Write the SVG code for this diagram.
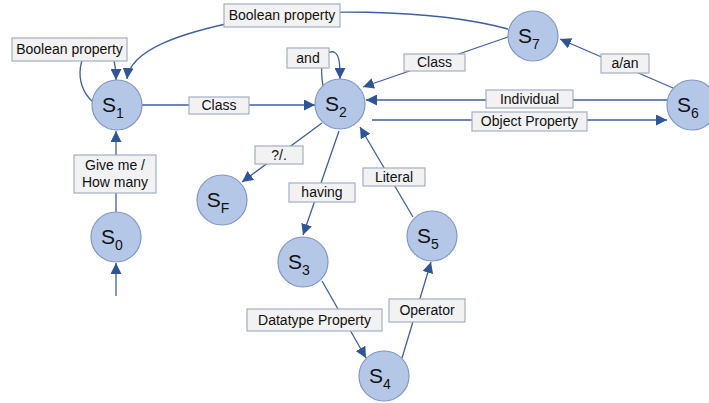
<svg xmlns="http://www.w3.org/2000/svg" width="709" height="403" viewBox="0 0 709 403">
<style>
.node circle{fill:#b4c7e7;stroke:#8197c4;stroke-width:1.2}
.node text{font-family:"Liberation Sans",Arial,sans-serif;font-size:21px;fill:#111;text-anchor:middle}
.node tspan{font-size:14px}
.edge{fill:none;stroke:#3f5f9e;stroke-width:1.3}
.arr{marker-end:url(#ah)}
.lbl rect{fill:#f2f2f2;stroke:#a3afc4;stroke-width:1.2}
.lbl text{font-family:"Liberation Sans",Arial,sans-serif;font-size:14px;fill:#111;text-anchor:middle}
</style>
<defs>
<marker id="ah" markerUnits="userSpaceOnUse" viewBox="0 0 10 10" refX="10" refY="5" markerWidth="11" markerHeight="11" orient="auto">
<path d="M0,0 L10,5 L0,10 z" fill="#2f5597"/>
</marker>
</defs>
<rect width="709" height="403" fill="#fff"/>
<g id="connectors">
<path class="edge arr" d="M116,296 L116,263"/>
<path class="edge arr" d="M116,212 L116,131"/>
<path class="edge arr" d="M93,102 C72,85 78,46 100,46 C112,46 116,62 116,80"/>
<path class="edge arr" d="M508,29 C430,8 300,8 240,21 C180,33 130,50 127,79"/>
<path class="edge arr" d="M323,86 C319,62 324,50 334,52 C340,55 340,66 340,79"/>
<path class="edge arr" d="M142,105 L315,105"/>
<path class="edge arr" d="M508,37 L363,87"/>
<path class="edge arr" d="M673,88 L560,39"/>
<path class="edge arr" d="M667,100 L366,100"/>
<path class="edge arr" d="M372,120 L667,120"/>
<path class="edge arr" d="M322,123 L242,182"/>
<path class="edge arr" d="M339,131 L303,235"/>
<path class="edge arr" d="M322,281 L366,358"/>
<path class="edge arr" d="M402,358 L431,262"/>
<path class="edge arr" d="M413,217 L360,127"/>
<g class="lbl"><rect x="224" y="4" width="116" height="23"/><text x="282" y="20">Boolean property</text></g>
<g class="lbl"><rect x="12" y="38" width="115" height="23"/><text x="69.5" y="54">Boolean property</text></g>
<g class="lbl"><rect x="287" y="48" width="42" height="20"/><text x="308" y="63">and</text></g>
<g class="lbl"><rect x="189" y="97" width="60" height="17"/><text x="219" y="110">Class</text></g>
<g class="lbl"><rect x="255" y="146" width="48" height="18"/><text x="279" y="160">?/.</text></g>
<g class="lbl"><rect x="289" y="183" width="66" height="19"/><text x="322" y="197">having</text></g>
<g class="lbl"><rect x="404" y="54" width="61" height="17"/><text x="434.5" y="67">Class</text></g>
<g class="lbl"><rect x="601" y="54" width="48" height="19"/><text x="625" y="68">a/an</text></g>
<g class="lbl"><rect x="486" y="90" width="87" height="18"/><text x="529.5" y="104">Individual</text></g>
<g class="lbl"><rect x="472" y="112" width="115" height="19"/><text x="529.5" y="126">Object Property</text></g>
<g class="lbl"><rect x="363" y="168" width="62" height="18"/><text x="394" y="182">Literal</text></g>
<g class="lbl"><rect x="247" y="309" width="135" height="22"/><text x="314.5" y="325">Datatype Property</text></g>
<g class="lbl"><rect x="389" y="299" width="76" height="23"/><text x="427" y="315">Operator</text></g>
<g class="lbl"><rect x="74" y="155" width="82" height="38"/><text x="115" y="170">Give me /</text><text x="115" y="187">How many</text></g>
</g>
<g id="S0" class="node"><circle cx="116" cy="237" r="25"/><text x="112" y="244">S<tspan dy="6">0</tspan></text></g>
<g id="S1" class="node"><circle cx="117" cy="105" r="25"/><text x="113" y="112">S<tspan dy="6">1</tspan></text></g>
<g id="S2" class="node"><circle cx="340" cy="104" r="25"/><text x="336" y="111">S<tspan dy="6">2</tspan></text></g>
<g id="S3" class="node"><circle cx="303" cy="262" r="25"/><text x="299" y="269">S<tspan dy="6">3</tspan></text></g>
<g id="S4" class="node"><circle cx="384" cy="376" r="25"/><text x="380" y="383">S<tspan dy="6">4</tspan></text></g>
<g id="S5" class="node"><circle cx="432" cy="236" r="25"/><text x="428" y="243">S<tspan dy="6">5</tspan></text></g>
<g id="S6" class="node"><circle cx="692" cy="105" r="25"/><text x="688" y="112">S<tspan dy="6">6</tspan></text></g>
<g id="S7" class="node"><circle cx="533" cy="36" r="25"/><text x="529" y="43">S<tspan dy="6">7</tspan></text></g>
<g id="SF" class="node"><circle cx="222" cy="200" r="25"/><text x="218" y="207">S<tspan dy="6">F</tspan></text></g>
</svg>
